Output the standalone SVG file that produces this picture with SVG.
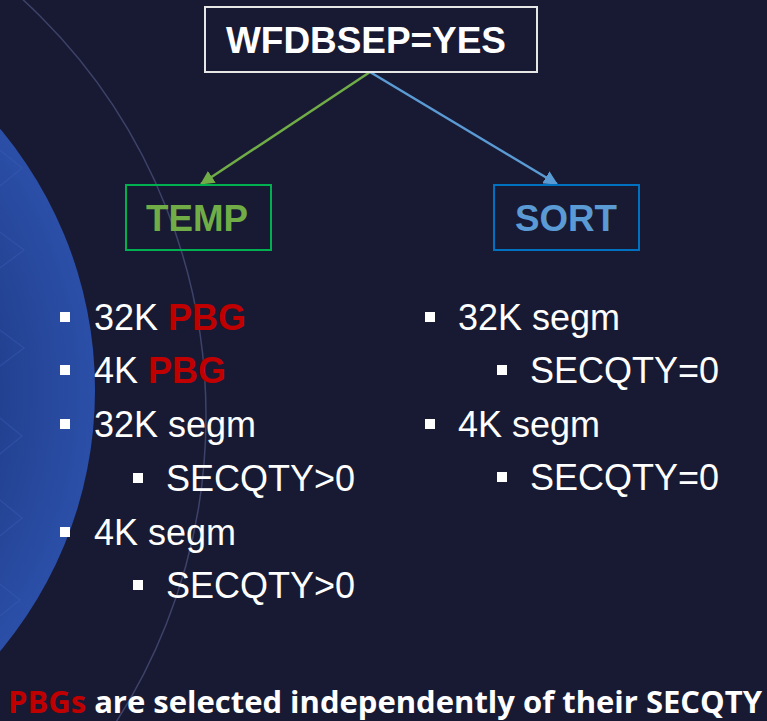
<svg xmlns="http://www.w3.org/2000/svg" width="767" height="721" viewBox="0 0 767 721">
  <defs>
    <radialGradient id="blueDisc" cx="-312" cy="390" r="407" gradientUnits="userSpaceOnUse">
      <stop offset="0" stop-color="#1c3680"/>
      <stop offset="0.75" stop-color="#22408f"/>
      <stop offset="1" stop-color="#2b4fa8"/>
    </radialGradient>
    <marker id="arrGreen" viewBox="0 0 14 14" refX="13" refY="7" markerWidth="14" markerHeight="14" markerUnits="userSpaceOnUse" orient="auto">
      <path d="M0,0 L14,7 L0,14 Z" fill="#70ad47"/>
    </marker>
    <marker id="arrBlue" viewBox="0 0 14 14" refX="13" refY="7" markerWidth="14" markerHeight="14" markerUnits="userSpaceOnUse" orient="auto">
      <path d="M0,0 L14,7 L0,14 Z" fill="#5b9bd5"/>
    </marker>
  </defs>
  <style>
    .box { fill: none; stroke-width: 2; }
    .head { font-family: "Liberation Sans", Arial, sans-serif; font-weight: bold; font-size: 37px; }
    .item { font-family: "Liberation Sans", Arial, sans-serif; font-size: 36px; fill: #ffffff; }
    .pbg { font-weight: bold; fill: #c00000; }
    .sq { fill: #ffffff; }
    .chev { fill: none; stroke: #3a5cb4; stroke-width: 1.5; opacity: 0.45; }
  </style>

  <!-- background -->
  <rect x="0" y="0" width="767" height="721" fill="#181a33"/>
  <circle cx="-312" cy="390" r="407" fill="url(#blueDisc)"/>
  <circle cx="-359" cy="416" r="565" fill="none" stroke="#3e4268" stroke-width="1.5"/>
  <path class="chev" d="M0,150 L22,168 L0,186"/>
  <path class="chev" d="M0,232 L24,250 L0,268"/>
  <path class="chev" d="M0,330 L24,348 L0,366"/>
  <path class="chev" d="M0,418 L22,436 L0,454"/>
  <path class="chev" d="M0,500 L22,518 L0,536"/>
  <path class="chev" d="M0,584 L20,600 L0,616"/>

  <!-- connectors -->
  <g id="connectors">
    <line x1="370" y1="72" x2="201" y2="184" stroke="#70ad47" stroke-width="2.5" marker-end="url(#arrGreen)"/>
    <line x1="370" y1="72" x2="557" y2="184" stroke="#5b9bd5" stroke-width="2.5" marker-end="url(#arrBlue)"/>
  </g>

  <!-- nodes -->
  <g id="node-wfdbsep">
    <rect class="box" x="205" y="7" width="332" height="65" stroke="#e6e6e6" fill="#181a33"/>
    <text class="head" x="226" y="53" fill="#ffffff" textLength="280" lengthAdjust="spacingAndGlyphs">WFDBSEP=YES</text>
  </g>
  <g id="node-temp">
    <rect class="box" x="126" y="185" width="145" height="65" stroke="#00b050"/>
    <text class="head" x="146" y="231" fill="#70ad47" textLength="102" lengthAdjust="spacingAndGlyphs">TEMP</text>
  </g>
  <g id="node-sort">
    <rect class="box" x="494" y="185" width="145" height="65" stroke="#0070c0"/>
    <text class="head" x="515" y="231" fill="#5b9bd5" textLength="102" lengthAdjust="spacingAndGlyphs">SORT</text>
  </g>

  <!-- TEMP list -->
  <g id="list-temp">
    <rect class="sq" x="60" y="312" width="10" height="10"/>
    <text class="item" x="94" y="330">32K <tspan class="pbg">PBG</tspan></text>
    <rect class="sq" x="60" y="365" width="10" height="10"/>
    <text class="item" x="94" y="383">4K <tspan class="pbg">PBG</tspan></text>
    <rect class="sq" x="60" y="419" width="10" height="10"/>
    <text class="item" x="94" y="437">32K segm</text>
    <rect class="sq" x="133" y="473" width="10" height="10"/>
    <text class="item" x="166" y="491">SECQTY&gt;0</text>
    <rect class="sq" x="60" y="527" width="10" height="10"/>
    <text class="item" x="94" y="545">4K segm</text>
    <rect class="sq" x="133" y="580" width="10" height="10"/>
    <text class="item" x="166" y="598">SECQTY&gt;0</text>
  </g>

  <!-- SORT list -->
  <g id="list-sort">
    <rect class="sq" x="425" y="312" width="10" height="10"/>
    <text class="item" x="458" y="330">32K segm</text>
    <rect class="sq" x="497" y="365" width="10" height="10"/>
    <text class="item" x="530" y="383">SECQTY=0</text>
    <rect class="sq" x="425" y="419" width="10" height="10"/>
    <text class="item" x="458" y="437">4K segm</text>
    <rect class="sq" x="497" y="472" width="10" height="10"/>
    <text class="item" x="530" y="490">SECQTY=0</text>
  </g>

  <!-- footer -->
  <text x="8" y="713" font-family="'Open Sans', 'Noto Sans', sans-serif" font-weight="700" font-size="30" fill="#ffffff" textLength="754" lengthAdjust="spacingAndGlyphs"><tspan fill="#c00000">PBGs</tspan> are selected independently of their SECQTY</text>
</svg>
